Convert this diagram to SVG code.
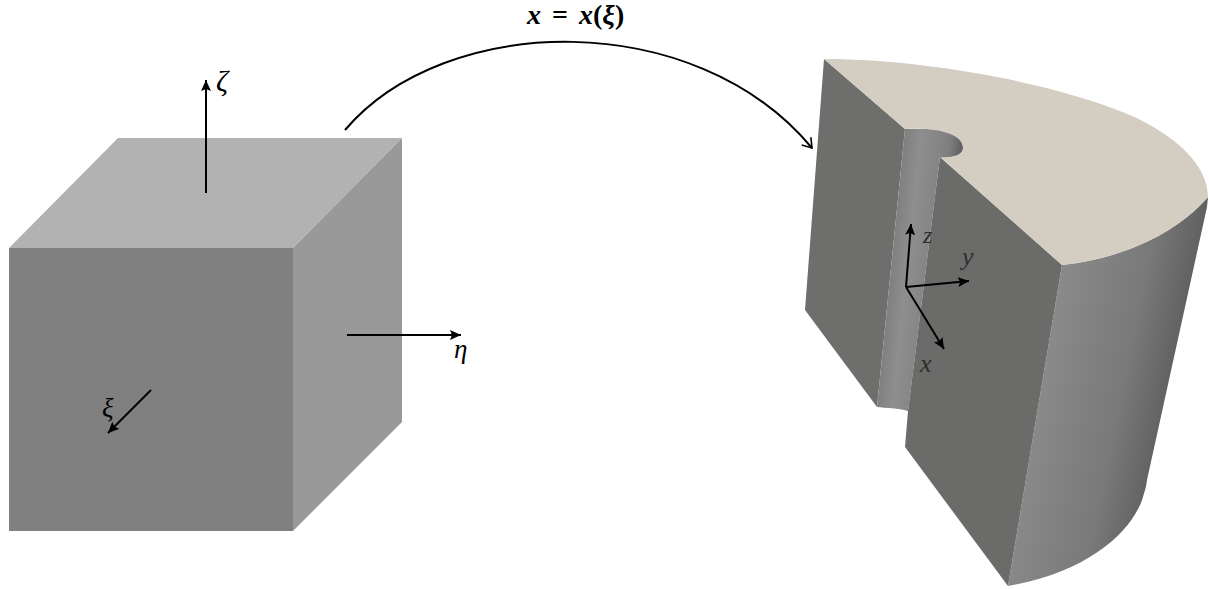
<svg xmlns="http://www.w3.org/2000/svg" width="1209" height="589" viewBox="0 0 1209 589">
<style>
.m{font-family:"Liberation Serif","DejaVu Serif",serif;font-style:italic;fill:#000}
.u{font-style:normal}
.g{fill:#2e2e2e}
.b{fill:none;stroke:#000;stroke-width:2;marker-end:url(#h)}
</style>
<defs>
<marker id="h" markerUnits="userSpaceOnUse" markerWidth="12" markerHeight="10" refX="11" refY="5" orient="auto"><path d="M0 0L11 5L0 10L2 5Z" fill="#000"/></marker>
<marker id="o" markerUnits="userSpaceOnUse" markerWidth="14" markerHeight="14" refX="11" refY="7" orient="auto"><path d="M2 1L11 7L2 13" fill="none" stroke="#000" stroke-width="1.6"/></marker>
<linearGradient id="c" gradientUnits="userSpaceOnUse" x1="1035" y1="400" x2="1185" y2="430"><stop offset="0" stop-color="#8a8a8a"/><stop offset=".55" stop-color="#797979"/><stop offset="1" stop-color="#555"/></linearGradient>
<linearGradient id="s" gradientUnits="userSpaceOnUse" x1="891" y1="270" x2="926" y2="273.6"><stop offset="0" stop-color="#808080"/><stop offset=".45" stop-color="#8e8e8e"/><stop offset="1" stop-color="#858585"/></linearGradient>
<linearGradient id="t" gradientUnits="userSpaceOnUse" x1="938" y1="145" x2="964" y2="148"><stop offset="0" stop-color="#858585"/><stop offset=".45" stop-color="#7e7e7e"/><stop offset="1" stop-color="#5a5a5a"/></linearGradient>
</defs>
<g id="cube">
<polygon points="118,138 402,138 293,248 9,248" fill="#b2b2b2"/>
<polygon points="9,248 293,248 293,531 9,531" fill="#808080"/>
<polygon points="402,138 402,422 293,531 293,248" fill="#999"/>
</g>
<g id="cylinder">
<path d="M1062,265C1120,259 1175,235 1208,197L1207,207L1147,480C1146,488 1145,490 1143,497C1133,530 1090,572 1008,586Z" fill="url(#c)"/>
<polygon points="824,59 905,129 877,407 805,310" fill="#6e6e6c"/>
<path d="M940,158L936,129C955,130 963,140 963,148C963,156 950,158 940,158Z" fill="url(#t)"/>
<path d="M905,129L939,129L940,157L908,411C898,408 886,408 877,407Z" fill="url(#s)"/>
<polygon points="940,157 1062,265 1008,586 905,447 908,411" fill="#6b6b69"/>
<path d="M824,59C930,59 1060,85 1130,115C1175,135 1208,165 1208,197C1175,235 1120,259 1062,265L940,157C950,158 963,156 963,148C963,133 935,127 905,129Z" fill="#d3cec1"/>
</g>
<g id="connectors">
<path class="b" d="M206,193V80"/>
<path class="b" d="M347,335H461"/>
<path class="b" d="M151,390L108,433"/>
<path d="M345,130C445,12 695,7 812,148" fill="none" stroke="#000" stroke-width="2" marker-end="url(#o)"/>
<path class="b" d="M906,287L911,224"/>
<path class="b" d="M906,287L969,281"/>
<path class="b" d="M906,287L944,349"/>
</g>
<g id="labels">
<text class="m" x="216" y="91" font-size="30">ζ</text>
<text class="m" x="454" y="358" font-size="27">η</text>
<text class="m" x="102" y="417" font-size="27">ξ</text>
<text x="527" y="24" font-size="28" font-weight="bold" class="m" word-spacing="4">x <tspan class="u">=</tspan> x<tspan class="u">(</tspan>ξ<tspan class="u">)</tspan></text>
<text class="m g" x="923" y="243" font-size="24">z</text>
<text class="m g" x="962" y="265" font-size="26">y</text>
<text class="m g" x="920" y="372" font-size="26">x</text>
</g>
</svg>
